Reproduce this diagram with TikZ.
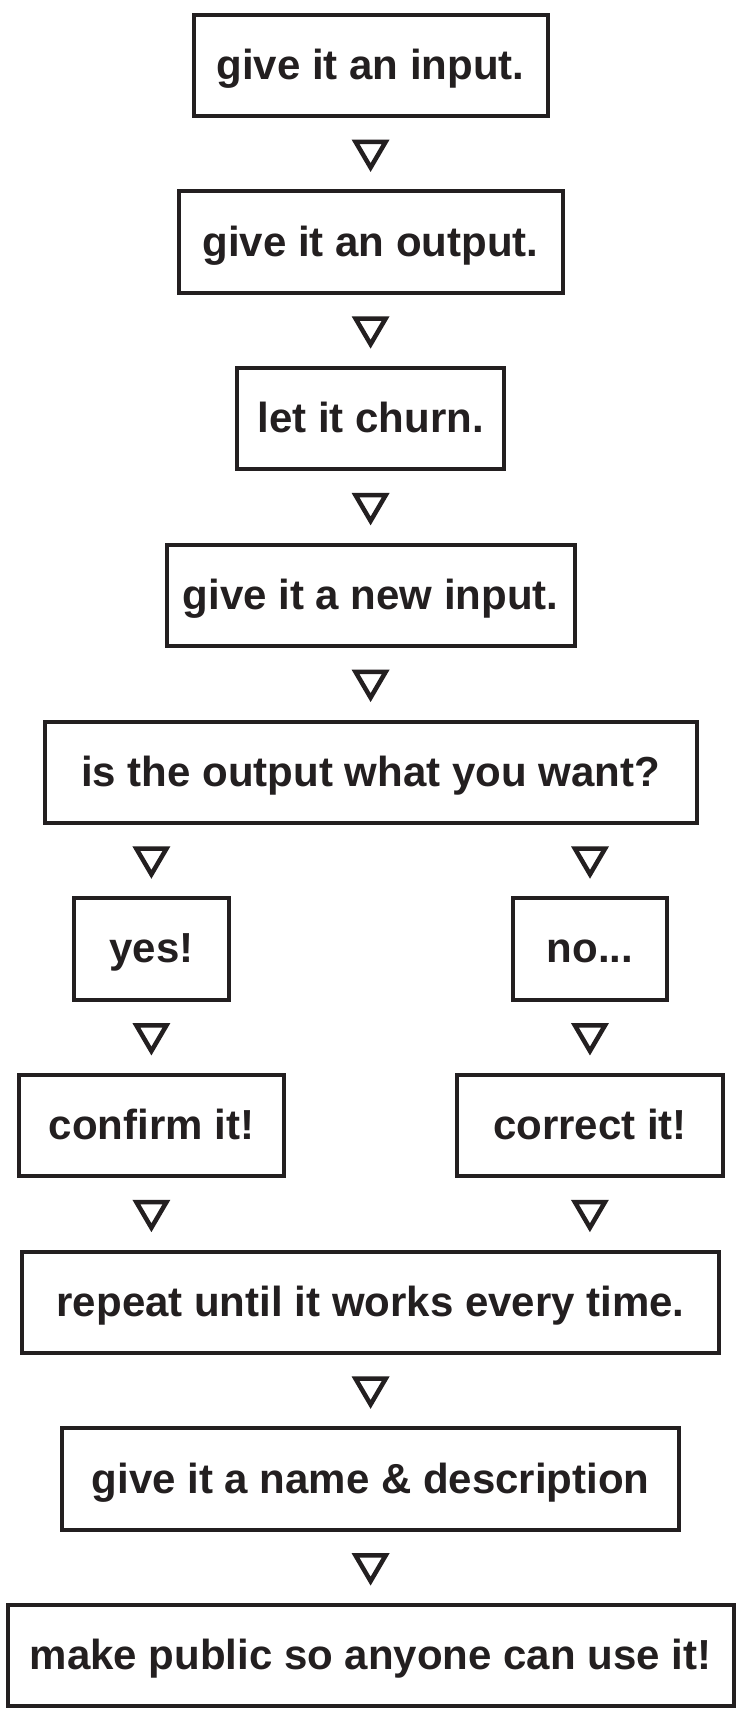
\documentclass[tikz,border=0pt]{standalone}
\usepackage{fontspec}
\setmainfont{Liberation Sans}
\usetikzlibrary{calc}
\definecolor{ink}{HTML}{231F20}
\tikzset{
  box/.style={draw=ink, line width=4pt, inner sep=0pt, text height=28pt, text depth=0pt,
    minimum height=101.3pt, font=\fontsize{42}{50}\selectfont\bfseries, text=ink},
  downtri/.pic={\draw[ink, line width=4.5pt, line join=miter] (-15.07,-13.95) -- (15.07,-13.95) -- (0,11.75) -- cycle;}
}
\begin{document}
\begin{tikzpicture}[x=1pt,y=-1pt]
\fill[white] (0,0) rectangle (738,1724);
\useasboundingbox (0,0) rectangle (738,1724);
% boxes
\node[box, minimum width=354pt] (b1) at (370.6,65.4) {give it an input.};
\node[box, minimum width=384pt] (b2) at (370.6,242.1) {give it an output.};
\node[box, minimum width=267pt] (b3) at (370.6,418.8) {let it churn.};
\node[box, minimum width=408pt] (b4) at (370.6,595.5) {give it a new input.};
\node[box, minimum width=652pt] (b5) at (370.6,772.2) {is the output what you want?};
\node[box, minimum width=155pt] (yes) at (151.4,948.9) {yes!};
\node[box, minimum width=154.4pt] (no) at (590,948.9) {no...};
\node[box, minimum width=265.6pt] (confirm) at (151.4,1125.6) {confirm it!};
\node[box, minimum width=265.7pt] (correct) at (589.9,1125.6) {correct it!};
\node[box, minimum width=697.5pt] (repeat) at (370.6,1302.3) {repeat until it works every time.};
\node[box, minimum width=617pt] (name) at (370.6,1479) {give it a name \& description};
\node[box, minimum width=726pt] (public) at (370.6,1655.7) {make public so anyone can use it!};
% connectors (triangles)
\path (b1.south) -- (b2.north) coordinate[midway, yshift=-2pt] (t1);
\path (b2.south) -- (b3.north) coordinate[midway, yshift=-2pt] (t2);
\path (b3.south) -- (b4.north) coordinate[midway, yshift=-2pt] (t3);
\path (b4.south) -- (b5.north) coordinate[midway, yshift=-2pt] (t4);
\path (b5.south -| yes.north) -- (yes.north) coordinate[midway, yshift=-2pt] (t5);
\path (b5.south -| no.north) -- (no.north) coordinate[midway, yshift=-2pt] (t6);
\path (yes.south) -- (confirm.north) coordinate[midway, yshift=-2pt] (t7);
\path (no.south) -- (correct.north) coordinate[midway, yshift=-2pt] (t8);
\path (confirm.south) -- (repeat.north -| confirm.south) coordinate[midway, yshift=-2pt] (t9);
\path (correct.south) -- (repeat.north -| correct.south) coordinate[midway, yshift=-2pt] (t10);
\path (repeat.south) -- (name.north) coordinate[midway, yshift=-2pt] (t11);
\path (name.south) -- (public.north) coordinate[midway, yshift=-2pt] (t12);
\foreach \t in {t1,t2,t3,t4,t5,t6,t7,t8,t9,t10,t11,t12}
  \pic at (\t) {downtri};
\end{tikzpicture}
\end{document}
